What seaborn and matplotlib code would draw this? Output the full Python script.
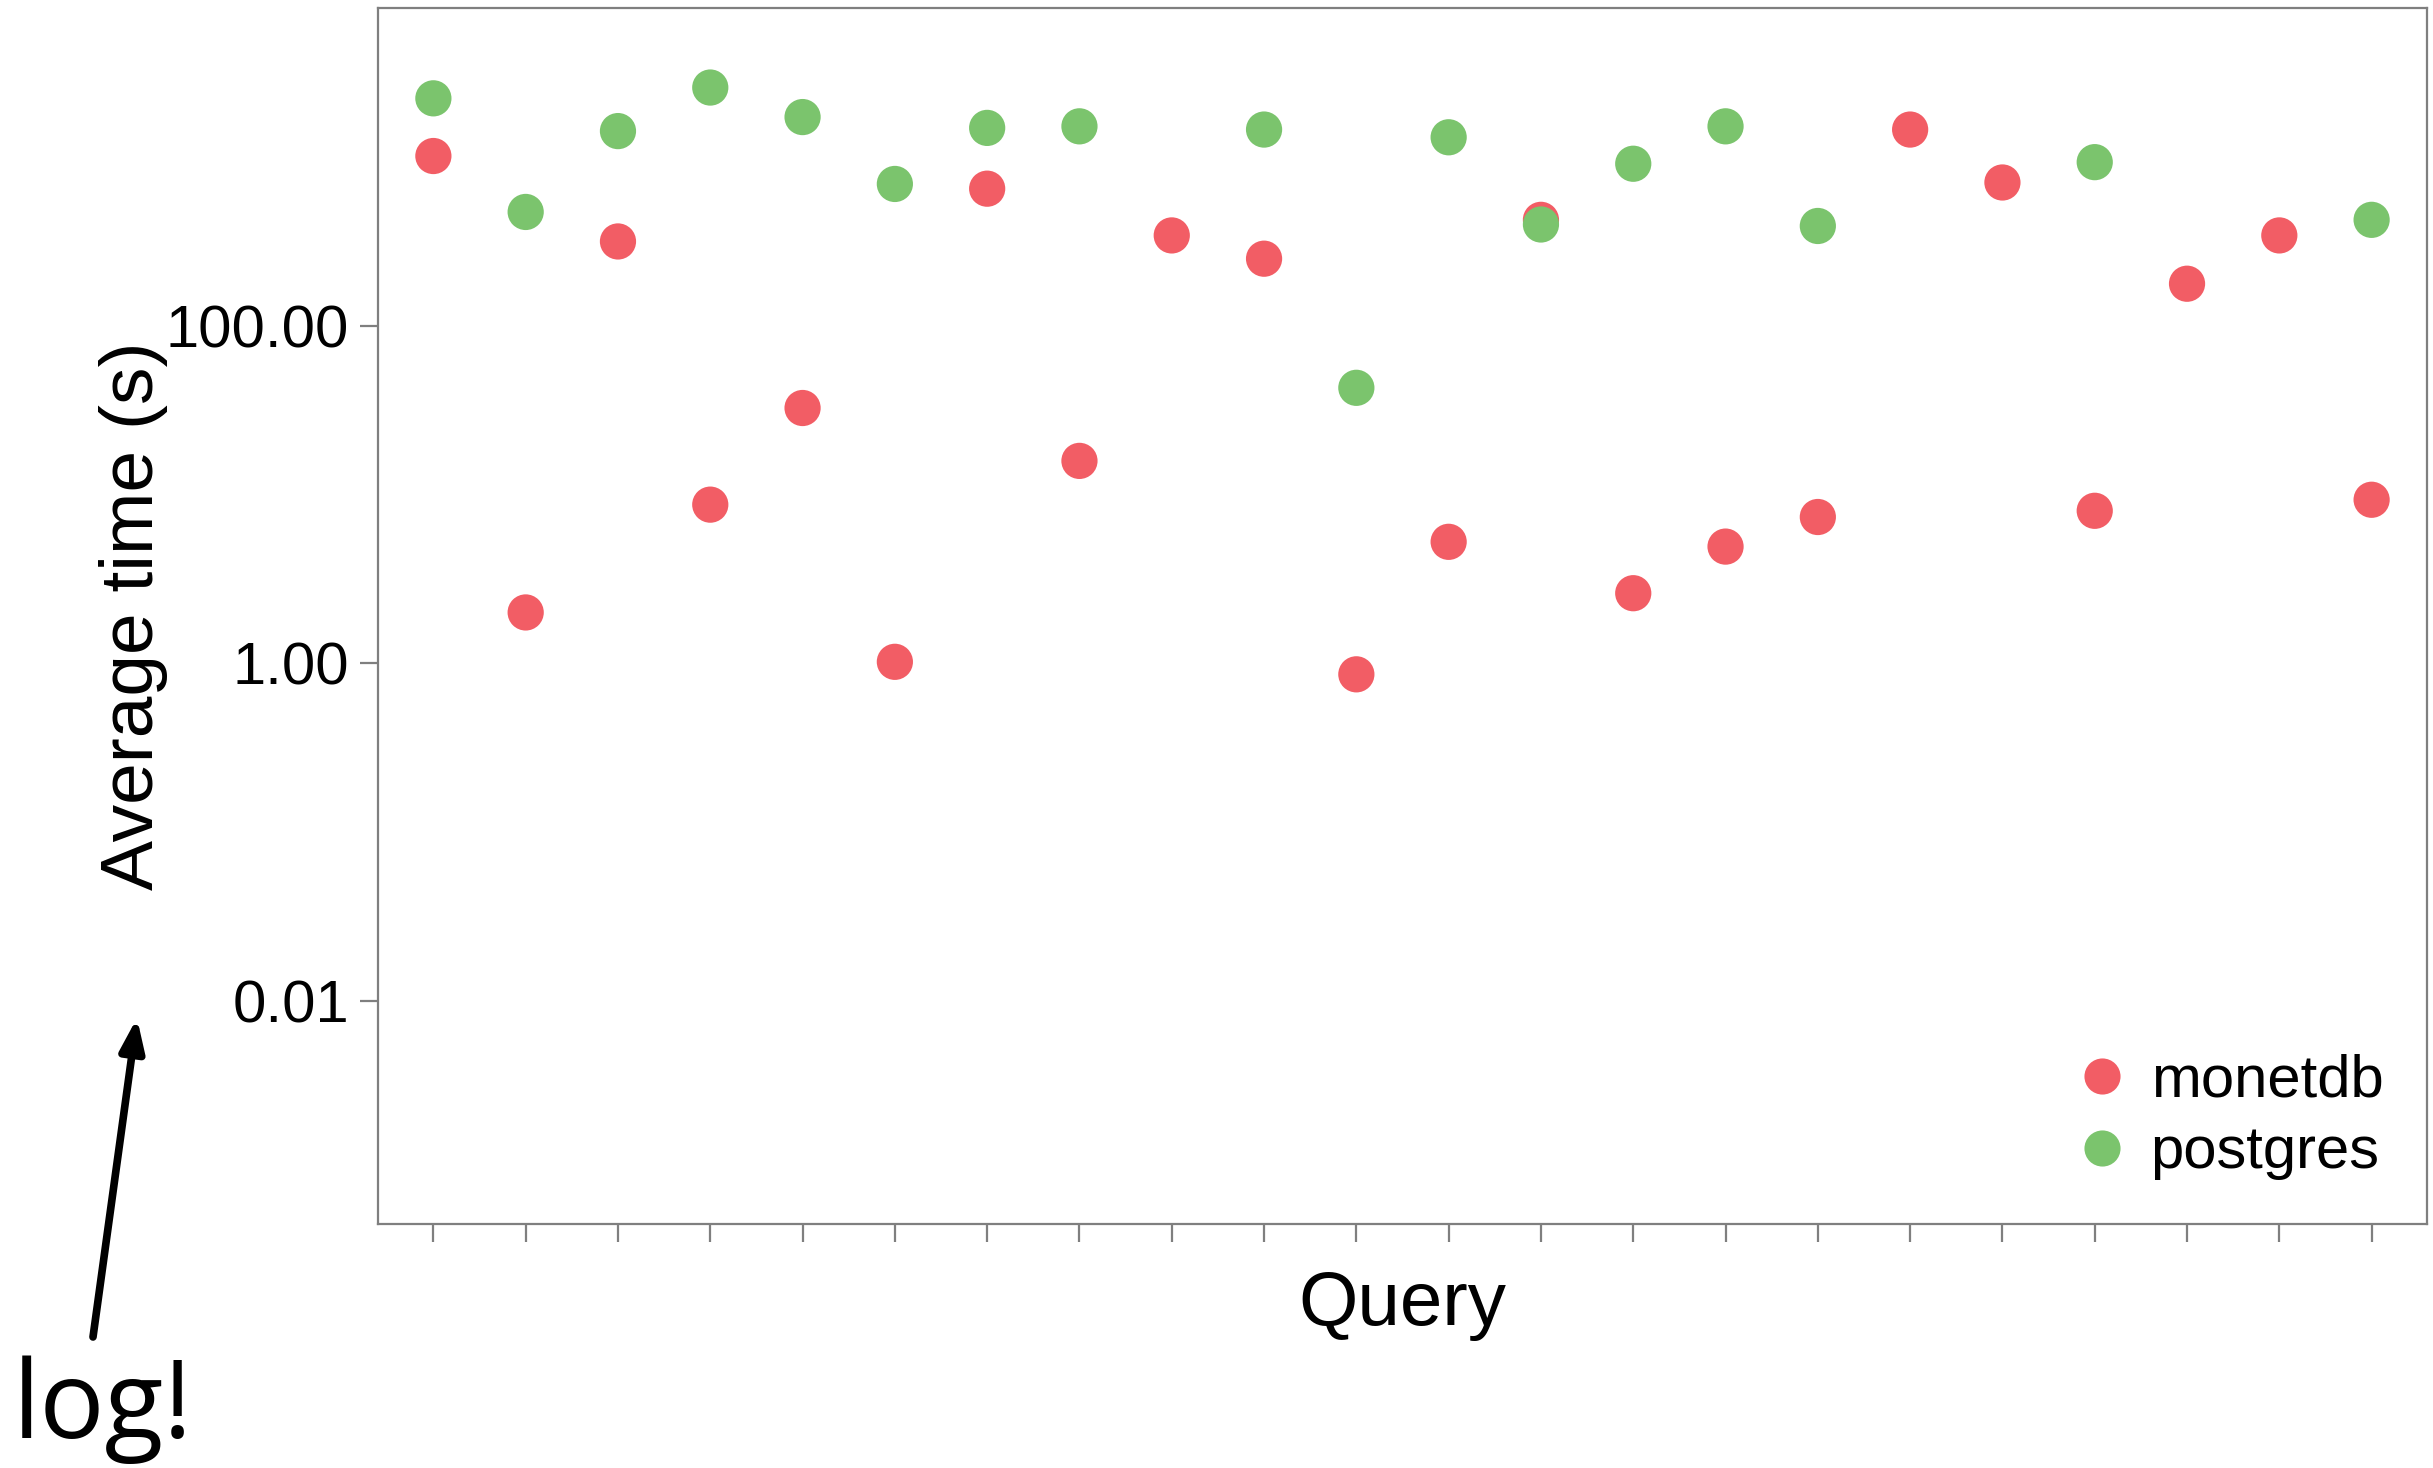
import numpy as np
import pandas as pd
import seaborn as sns
import matplotlib.pyplot as plt
from matplotlib.lines import Line2D

# data (seconds, log scale)
queries = ['q%d' % i for i in range(1, 23)]
monetdb = [1010, 2.0, 315, 8.7, 32.5, 1.02, 647, 15.8, 342, 249, 0.86,
           5.24, 423, 2.6, 4.91, 7.35, 1449, 704, 8.0, 177, 342, 9.3]
postgres = [2218, 471, 1419, 2570, 1718, 690, 1482, 1514, np.nan, 1449, 42.8,
            1304, 397, 909, 1514, 389, np.nan, np.nan, 929, np.nan, np.nan, 423]
systems = ['monetdb', 'postgres']
colors = ['#f25d65', '#7bc46d']
y_ticks = [0.01, 1, 100]

df = pd.concat([
    pd.DataFrame({'Query': queries, 'time': monetdb, 'system': 'monetdb'}),
    pd.DataFrame({'Query': queries, 'time': postgres, 'system': 'postgres'}),
]).dropna()
df['pos'] = df['Query'].map({q: i for i, q in enumerate(queries)})

sns.set_theme(style='white')
plt.rcParams['font.family'] = ['Liberation Sans', 'DejaVu Sans']
plt.rcParams['text.color'] = 'black'
plt.rcParams['axes.labelcolor'] = 'black'

fig = plt.figure(figsize=(24.33, 14.68), dpi=100)
ax = fig.add_axes([378 / 2433, 1 - 1224 / 1468, (2427 - 378) / 2433, (1224 - 8) / 1468])

sns.scatterplot(data=df, x='pos', y='time', hue='system', hue_order=systems,
                palette=colors, s=680, linewidth=0, alpha=1, ax=ax, legend=False)

ax.set_yscale('log')
ax.set_ylim(10 ** -3.321, 10 ** 3.881)
ax.set_yticks(y_ticks)
ax.set_yticklabels(['%.2f' % v for v in y_ticks])
ax.minorticks_off()
ax.set_xlim(-0.6, len(queries) - 1 + 0.6)
ax.set_xticks(range(len(queries)))
ax.set_xticklabels([])

for sp in ax.spines.values():
    sp.set_color('#7f7f7f')
    sp.set_linewidth(1.6)
ax.tick_params(axis='both', which='major', direction='out', length=13, width=1.6,
               color='#7f7f7f', labelsize=43, pad=8, labelcolor='black',
               bottom=True, left=True)

ax.set_xlabel('Query', fontsize=55, labelpad=12)
ax.set_ylabel('Average time (s)', fontsize=54, labelpad=-2)

handles = [Line2D([], [], marker='o', linestyle='', markersize=26,
                  markerfacecolor=c, markeredgewidth=0) for c in colors]
ax.legend(handles, systems, loc='lower right', frameon=False, fontsize=43,
          handletextpad=0.22, labelspacing=0.28, borderaxespad=0.33,
          handlelength=1.2)

# annotation pointing to the log scale
fig.text(13 / 2433, 1 - 1438 / 1468, 'log!', fontsize=78, color='black',
         family=['Open Sans', 'DejaVu Sans'], ha='left', va='baseline')
fig.add_artist(plt.Annotation('', xy=(137 / 2433, 1 - 1018 / 1468),
                              xytext=(93 / 2433, 1 - 1337 / 1468),
                              xycoords='figure fraction', textcoords='figure fraction',
                              arrowprops=dict(arrowstyle='-|>,head_length=1.6,head_width=0.6',
                                              lw=5.5, color='black',
                                              shrinkA=0, shrinkB=0)))

fig.savefig('out.png', dpi=100)
